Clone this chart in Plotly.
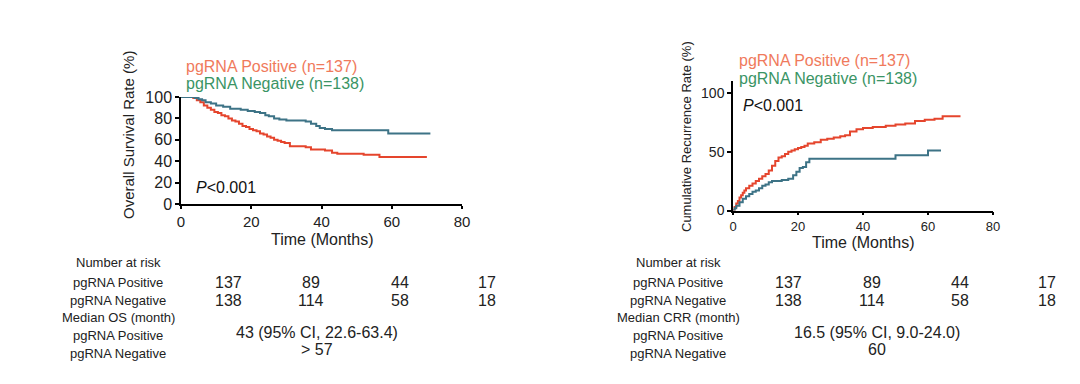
import plotly.graph_objects as go

W, H = 1080, 384

# ---------------- data ----------------
os_pos_t = [0, 3.5, 4.5, 5.5, 6.5, 7.5, 8.5, 9.5, 10.5, 11.5, 12.5, 13.5, 14.5, 15.5, 16.5, 17.5, 18.5, 19.5,
            20.5, 21.5, 22.5, 23.5, 24.5, 25.5, 26.5, 27.5, 28.5, 29.5, 31, 33.5, 35.5, 37, 39, 41, 43, 44.5,
            48, 52, 54, 56.5, 70]
os_pos_v = [100, 99, 97, 95, 92, 90, 88, 86, 85, 83, 82, 80, 78, 77, 75, 73, 72, 70,
            69, 68, 66, 65, 63, 62, 60, 59, 58, 57, 54, 54, 53, 51, 51, 50, 48, 47,
            47, 46, 46, 44, 44]

os_neg_t = [0, 4, 5, 6, 7, 8.5, 10, 12, 14, 17, 19, 21, 22.5, 24, 25, 26.5, 28, 30, 33, 35.5, 37, 38.5,
            39.5, 41, 43, 59, 71]
os_neg_v = [100, 99, 98, 97, 95, 94, 92, 91, 89, 88, 87, 86, 85, 83, 82, 80, 79, 78, 78, 77, 75, 73,
            71, 70, 69, 66, 66]

crr_pos_t = [0, 0.5, 1, 1.5, 2, 2.5, 3, 3.5, 4, 5, 6, 7, 8, 9, 10, 11, 12, 13, 14, 15, 16, 17, 18, 19, 20,
             21, 22, 23, 25, 27, 29, 31, 33, 34.5, 36, 38, 40, 43, 47, 50, 53, 56, 59, 62, 64.5, 70]
crr_pos_v = [0, 3, 6, 8, 11, 13, 15, 17, 19, 21, 23, 25, 27, 29, 31, 34, 38, 42, 45, 46, 48, 50, 51, 52, 53,
             54, 55, 57, 58, 60, 61, 62, 63, 64, 67, 69, 70, 71, 72, 73, 74, 76, 77, 78, 80, 80]

crr_neg_t = [0, 0.5, 1, 2, 3, 4, 5, 6, 7, 8, 9, 10, 11, 12, 15, 17, 18.5, 19.5, 20.5, 21.5, 22.5, 23.5,
             50, 60, 64]
crr_neg_v = [0, 2, 4, 7, 10, 12, 14, 16, 17, 19, 21, 22, 24, 25, 26, 27, 30, 33, 36, 37, 41, 44,
             47, 51, 51]

legend_labels = ["pgRNA Positive (n=137)", "pgRNA Negative (n=138)"]
p_text = "<i>P</i><0.001"
x_title = "Time (Months)"

risk_pos = ["137", "89", "44", "17"]
risk_neg = ["138", "114", "58", "18"]
row_labels_os = ["Number at risk", "pgRNA Positive", "pgRNA Negative", "Median OS (month)",
                 "pgRNA Positive", "pgRNA Negative"]
row_labels_crr = ["Number at risk", "pgRNA Positive", "pgRNA Negative", "Median CRR (month)",
                  "pgRNA Positive", "pgRNA Negative"]
median_os = ["43 (95% CI, 22.6-63.4)", "> 57"]
median_crr = ["16.5 (95% CI, 9.0-24.0)", "60"]

# ---------------- style ----------------
RED = "#e5452d"
BLUE = "#3d7386"
LEG_POS = "#f07a5c"
LEG_NEG = "#3a9465"
FONT = "Liberation Sans, Arial, sans-serif"

def px(x):
    return x / W

def py(y):
    return 1 - y / H

fig = go.Figure()

fig.add_trace(go.Scatter(x=os_pos_t, y=os_pos_v, mode="lines", line=dict(color=RED, width=2, shape="hv"),
                         xaxis="x", yaxis="y", showlegend=False))
fig.add_trace(go.Scatter(x=os_neg_t, y=os_neg_v, mode="lines", line=dict(color=BLUE, width=2, shape="hv"),
                         xaxis="x", yaxis="y", showlegend=False))
fig.add_trace(go.Scatter(x=crr_pos_t, y=crr_pos_v, mode="lines", line=dict(color=RED, width=2, shape="hv"),
                         xaxis="x2", yaxis="y2", showlegend=False))
fig.add_trace(go.Scatter(x=crr_neg_t, y=crr_neg_v, mode="lines", line=dict(color=BLUE, width=2, shape="hv"),
                         xaxis="x2", yaxis="y2", showlegend=False))

axis_common = dict(showline=True, linecolor="black", linewidth=1.5, ticks="outside", ticklen=3,
                   tickwidth=1.5, tickcolor="black", showgrid=False, zeroline=False, mirror=False,
                   automargin=False)

fig.update_layout(
    width=W, height=H, autosize=False,
    margin=dict(l=0, r=0, t=0, b=0, pad=0),
    paper_bgcolor="white", plot_bgcolor="white",
    font=dict(family=FONT, color="#222"),
    xaxis=dict(domain=[px(181), px(462)], range=[0, 80], tickvals=[0, 20, 40, 60, 80],
               anchor="y", tickfont=dict(size=15, color="#222"), **axis_common),
    yaxis=dict(domain=[py(204), py(97)], range=[0, 100], tickvals=[0, 20, 40, 60, 80, 100],
               anchor="x", tickfont=dict(size=16, color="#222"), ticklen=4,
               **{k: v for k, v in axis_common.items() if k != "ticklen"}),
    xaxis2=dict(domain=[px(733), px(993)], range=[0, 80], tickvals=[0, 20, 40, 60, 80],
                anchor="y2", tickfont=dict(size=13, color="#222"), **axis_common),
    yaxis2=dict(domain=[py(210.5), py(81)], range=[0, 110], tickvals=[0, 50, 100],
                anchor="x2", tickfont=dict(size=14, color="#222"), ticklen=4,
                **{k: v for k, v in axis_common.items() if k != "ticklen"}),
)

ann = []
# axis titles
ann.append(dict(x=px(322), y=py(229), xref="paper", yref="paper", text=x_title, showarrow=False,
                font=dict(size=16, color="#222"), xanchor="center", yanchor="top"))
ann.append(dict(x=px(863), y=py(231.5), xref="paper", yref="paper", text=x_title, showarrow=False,
                font=dict(size=16, color="#222"), xanchor="center", yanchor="top"))
ann.append(dict(x=px(128), y=py(135), xref="paper", yref="paper", text="Overall Survival Rate (%)",
                textangle=-90, showarrow=False, font=dict(size=15, color="#222"),
                xanchor="center", yanchor="middle"))
ann.append(dict(x=px(687), y=py(137), xref="paper", yref="paper", text="Cumulative Recurrence Rate (%)",
                textangle=-90, showarrow=False, font=dict(size=13, color="#222"),
                xanchor="center", yanchor="middle"))

# legends
for (x0, ys) in [(184, (66, 83)), (737, (61, 79))]:
    ann.append(dict(x=px(x0), y=py(ys[0]), xref="paper", yref="paper", text=legend_labels[0],
                    showarrow=False, font=dict(size=16, color=LEG_POS), xanchor="left", yanchor="middle"))
    ann.append(dict(x=px(x0), y=py(ys[1]), xref="paper", yref="paper", text=legend_labels[1],
                    showarrow=False, font=dict(size=16, color=LEG_NEG), xanchor="left", yanchor="middle"))

# P values
ann.append(dict(x=px(194), y=py(187), xref="paper", yref="paper", text=p_text, showarrow=False,
                font=dict(size=16, color="#111"), xanchor="left", yanchor="middle"))
ann.append(dict(x=px(741), y=py(105), xref="paper", yref="paper", text=p_text, showarrow=False,
                font=dict(size=16, color="#111"), xanchor="left", yanchor="middle"))

# tables
row_y = [262, 282, 300, 317, 335, 353]
for (lab_x, col_x, mid_x, labels, medians) in [
        (118, [228, 311, 400, 487], 317, row_labels_os, median_os),
        (678, [788, 872, 960, 1047], 877, row_labels_crr, median_crr)]:
    for lab, yy in zip(labels, row_y):
        ann.append(dict(x=px(lab_x), y=py(yy), xref="paper", yref="paper", text=lab, showarrow=False,
                        font=dict(size=13, color="#222"), xanchor="center", yanchor="middle"))
    for cx, a, b in zip(col_x, risk_pos, risk_neg):
        ann.append(dict(x=px(cx), y=py(row_y[1]), xref="paper", yref="paper", text=a, showarrow=False,
                        font=dict(size=16, color="#222"), xanchor="center", yanchor="middle"))
        ann.append(dict(x=px(cx), y=py(row_y[2]), xref="paper", yref="paper", text=b, showarrow=False,
                        font=dict(size=16, color="#222"), xanchor="center", yanchor="middle"))
    for m, yy in zip(medians, [332, 349]):
        ann.append(dict(x=px(mid_x), y=py(yy), xref="paper", yref="paper", text=m, showarrow=False,
                        font=dict(size=16, color="#222"), xanchor="center", yanchor="middle"))

fig.update_layout(annotations=ann)
fig.write_html("out.html", config={"responsive": False, "displayModeBar": False},
               post_script="document.body.style.margin='0';")
